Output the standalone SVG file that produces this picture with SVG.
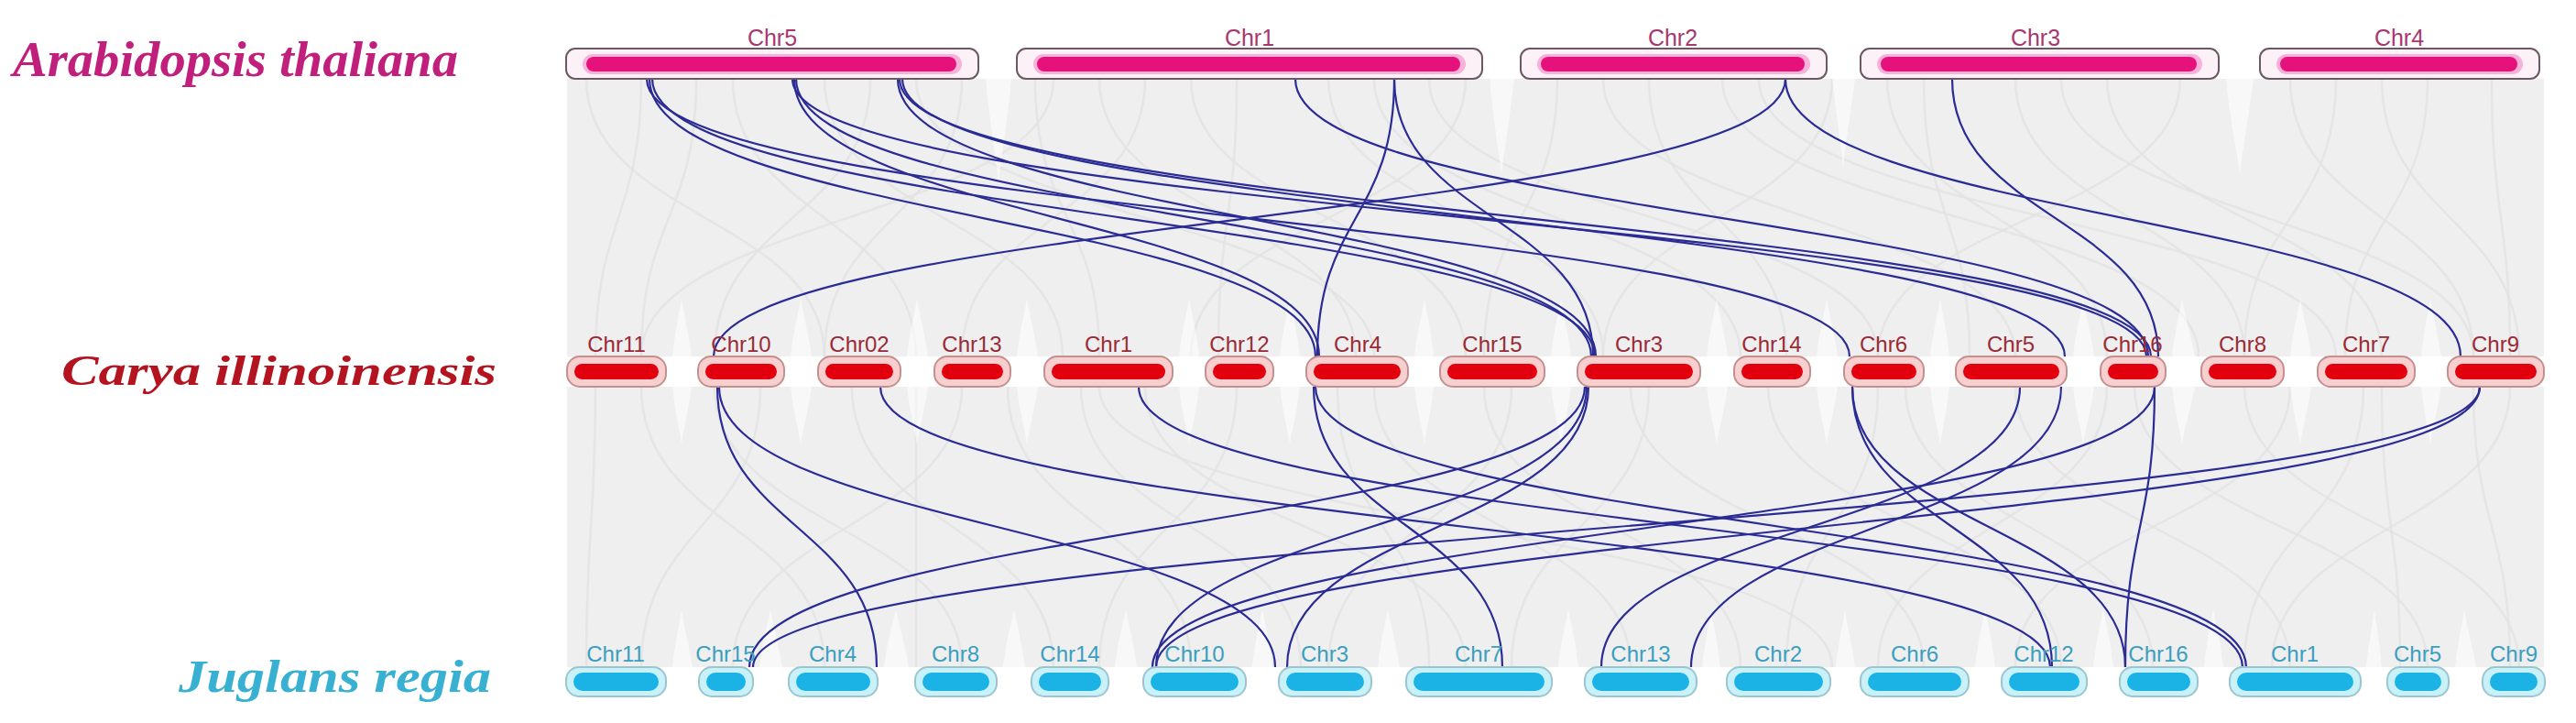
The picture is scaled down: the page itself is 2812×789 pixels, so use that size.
<svg xmlns="http://www.w3.org/2000/svg" width="2812" height="789" viewBox="0 0 2812 789">
<style>
.tbox{fill:#fdf1f8;stroke:#6b5862;stroke-width:2}
.thalo{fill:#f8b2d9}
.tbar{fill:#e5127b}
.tlab{font-family:"Liberation Sans",Arial,sans-serif;font-size:25px;fill:#a6386f;text-anchor:middle}
.mbox{fill:#f8cfcf;stroke:#c48f8f;stroke-width:2}
.mbar{fill:#e2000e}
.mlab{font-family:"Liberation Sans",Arial,sans-serif;font-size:24px;fill:#9a2b36;text-anchor:middle}
.bbox{fill:#c8f1f9;stroke:#9cc6ce;stroke-width:2}
.bbar{fill:#1bb3e5}
.blab{font-family:"Liberation Sans",Arial,sans-serif;font-size:24px;fill:#3a9fc0;text-anchor:middle}
.sp{font-family:"Liberation Serif","Times New Roman",serif;font-style:italic;font-weight:bold;text-anchor:end}
.link{fill:none;stroke:#2b2b95;stroke-width:2.2}
.grey{fill:none;stroke:#e2e2e2;stroke-width:2.5;opacity:0.8}
.wedge{fill:#ffffff;opacity:0.55}
</style>
<rect x="0" y="0" width="2812" height="789" fill="#ffffff"/>
<g id="background">
<rect x="619" y="86" width="2158" height="303" fill="#efefef"/>
<rect x="619" y="422" width="2158" height="306" fill="#efefef"/>
<g id="grey-links">
<path class="grey" d="M700 86C700 238 650 238 650 389"/>
<path class="grey" d="M760 86C760 238 700 238 700 389"/>
<path class="grey" d="M800 86C800 238 1000 238 1000 389"/>
<path class="grey" d="M900 86C900 238 1160 238 1160 389"/>
<path class="grey" d="M950 86C950 238 780 238 780 389"/>
<path class="grey" d="M1050 86C1050 238 900 238 900 389"/>
<path class="grey" d="M1130 86C1130 238 1200 238 1200 389"/>
<path class="grey" d="M1200 86C1200 238 1480 238 1480 389"/>
<path class="grey" d="M1250 86C1250 238 1050 238 1050 389"/>
<path class="grey" d="M1300 86C1300 238 1600 238 1600 389"/>
<path class="grey" d="M1350 86C1350 238 1330 238 1330 389"/>
<path class="grey" d="M1450 86C1450 238 1750 238 1750 389"/>
<path class="grey" d="M1500 86C1500 238 1900 238 1900 389"/>
<path class="grey" d="M1560 86C1560 238 2050 238 2050 389"/>
<path class="grey" d="M1700 86C1700 238 1620 238 1620 389"/>
<path class="grey" d="M1750 86C1750 238 2200 238 2200 389"/>
<path class="grey" d="M1800 86C1800 238 1950 238 1950 389"/>
<path class="grey" d="M1880 86C1880 238 2400 238 2400 389"/>
<path class="grey" d="M1920 86C1920 238 2550 238 2550 389"/>
<path class="grey" d="M2060 86C2060 238 2300 238 2300 389"/>
<path class="grey" d="M2100 86C2100 238 2150 238 2150 389"/>
<path class="grey" d="M2200 86C2200 238 2450 238 2450 389"/>
<path class="grey" d="M2250 86C2250 238 2700 238 2700 389"/>
<path class="grey" d="M2300 86C2300 238 2600 238 2600 389"/>
<path class="grey" d="M2380 86C2380 238 2050 238 2050 389"/>
<path class="grey" d="M2500 86C2500 238 2700 238 2700 389"/>
<path class="grey" d="M2550 86C2550 238 2450 238 2450 389"/>
<path class="grey" d="M2600 86C2600 238 2750 238 2750 389"/>
<path class="grey" d="M2650 86C2650 238 2560 238 2560 389"/>
<path class="grey" d="M2720 86C2720 238 2740 238 2740 389"/>
<path class="grey" d="M1150 86C1150 238 700 238 700 389"/>
<path class="grey" d="M1600 86C1600 238 1300 238 1300 389"/>
<path class="grey" d="M2000 86C2000 238 1750 238 1750 389"/>
<path class="grey" d="M640 86C640 238 900 238 900 389"/>
<path class="grey" d="M1000 86C1000 238 1500 238 1500 389"/>
<path class="grey" d="M650 422C650 575 640 575 640 728"/>
<path class="grey" d="M700 422C700 575 900 575 900 728"/>
<path class="grey" d="M780 422C780 575 1050 575 1050 728"/>
<path class="grey" d="M830 422C830 575 700 575 700 728"/>
<path class="grey" d="M930 422C930 575 1150 575 1150 728"/>
<path class="grey" d="M1050 422C1050 575 800 575 800 728"/>
<path class="grey" d="M1100 422C1100 575 1300 575 1300 728"/>
<path class="grey" d="M1180 422C1180 575 1420 575 1420 728"/>
<path class="grey" d="M1250 422C1250 575 1600 575 1600 728"/>
<path class="grey" d="M1350 422C1350 575 1200 575 1200 728"/>
<path class="grey" d="M1460 422C1460 575 1560 575 1560 728"/>
<path class="grey" d="M1500 422C1500 575 1780 575 1780 728"/>
<path class="grey" d="M1620 422C1620 575 1900 575 1900 728"/>
<path class="grey" d="M1650 422C1650 575 1450 575 1450 728"/>
<path class="grey" d="M1780 422C1780 575 2100 575 2100 728"/>
<path class="grey" d="M1800 422C1800 575 1650 575 1650 728"/>
<path class="grey" d="M1930 422C1930 575 2250 575 2250 728"/>
<path class="grey" d="M2050 422C2050 575 1950 575 1950 728"/>
<path class="grey" d="M2080 422C2080 575 2350 575 2350 728"/>
<path class="grey" d="M2200 422C2200 575 2500 575 2500 728"/>
<path class="grey" d="M2300 422C2300 575 2050 575 2050 728"/>
<path class="grey" d="M2330 422C2330 575 2650 575 2650 728"/>
<path class="grey" d="M2450 422C2450 575 2750 575 2750 728"/>
<path class="grey" d="M2500 422C2500 575 2200 575 2200 728"/>
<path class="grey" d="M2580 422C2580 575 2450 575 2450 728"/>
<path class="grey" d="M2600 422C2600 575 2620 575 2620 728"/>
<path class="grey" d="M2700 422C2700 575 2740 575 2740 728"/>
<path class="grey" d="M2740 422C2740 575 2480 575 2480 728"/>
<path class="grey" d="M1000 422C1000 575 1000 575 1000 728"/>
<path class="grey" d="M1200 422C1200 575 2000 575 2000 728"/>
</g>
<g id="wedges">
<path class="wedge" d="M1076 86C1080 130 1087 170 1090 200C1093 170 1100 130 1104 86Z"/>
<path class="wedge" d="M1626 86C1630 130 1636 165 1639 190C1642 165 1648 130 1653 86Z"/>
<path class="wedge" d="M2000 86C2004 125 2010 160 2012 185C2014 160 2020 125 2025 86Z"/>
<path class="wedge" d="M2430 86C2434 130 2442 165 2445 190C2448 165 2454 130 2460 86Z"/>
<path class="wedge" d="M734 389C737 360 742 340 744 325C746 340 751 360 755 389Z"/>
<path class="wedge" d="M863 389C866 360 872 340 874 325C876 340 882 360 886 389Z"/>
<path class="wedge" d="M990 389C993 360 999 340 1001 325C1003 340 1009 360 1013 389Z"/>
<path class="wedge" d="M1110 389C1113 360 1119 340 1121 325C1123 340 1129 360 1133 389Z"/>
<path class="wedge" d="M1287 389C1290 360 1296 340 1298 325C1300 340 1306 360 1309 389Z"/>
<path class="wedge" d="M1397 389C1400 360 1406 340 1408 325C1410 340 1416 360 1419 389Z"/>
<path class="wedge" d="M1544 389C1547 360 1553 340 1555 325C1557 340 1562 360 1565 389Z"/>
<path class="wedge" d="M1693 389C1696 360 1702 340 1704 325C1706 340 1711 360 1715 389Z"/>
<path class="wedge" d="M1863 389C1866 360 1872 340 1874 325C1876 340 1882 360 1886 389Z"/>
<path class="wedge" d="M1983 389C1986 360 1992 340 1994 325C1996 340 2002 360 2006 389Z"/>
<path class="wedge" d="M2107 389C2110 360 2116 340 2118 325C2120 340 2125 360 2128 389Z"/>
<path class="wedge" d="M2263 389C2266 360 2272 340 2274 325C2276 340 2282 360 2286 389Z"/>
<path class="wedge" d="M2371 389C2374 360 2380 340 2382 325C2384 340 2390 360 2396 389Z"/>
<path class="wedge" d="M2500 389C2503 360 2509 340 2511 325C2513 340 2519 360 2523 389Z"/>
<path class="wedge" d="M2643 389C2646 360 2651 340 2653 325C2655 340 2660 360 2665 389Z"/>
<path class="wedge" d="M734 422C737 450 742 470 744 485C746 470 751 450 755 422Z"/>
<path class="wedge" d="M863 422C866 450 872 470 874 485C876 470 882 450 886 422Z"/>
<path class="wedge" d="M990 422C993 450 999 470 1001 485C1003 470 1009 450 1013 422Z"/>
<path class="wedge" d="M1110 422C1113 450 1119 470 1121 485C1123 470 1129 450 1133 422Z"/>
<path class="wedge" d="M1287 422C1290 450 1296 470 1298 485C1300 470 1306 450 1309 422Z"/>
<path class="wedge" d="M1397 422C1400 450 1406 470 1408 485C1410 470 1416 450 1419 422Z"/>
<path class="wedge" d="M1544 422C1547 450 1553 470 1555 485C1557 470 1562 450 1565 422Z"/>
<path class="wedge" d="M1693 422C1696 450 1702 470 1704 485C1706 470 1711 450 1715 422Z"/>
<path class="wedge" d="M1863 422C1866 450 1872 470 1874 485C1876 470 1882 450 1886 422Z"/>
<path class="wedge" d="M1983 422C1986 450 1992 470 1994 485C1996 470 2002 450 2006 422Z"/>
<path class="wedge" d="M2107 422C2110 450 2116 470 2118 485C2120 470 2125 450 2128 422Z"/>
<path class="wedge" d="M2263 422C2266 450 2272 470 2274 485C2276 470 2282 450 2286 422Z"/>
<path class="wedge" d="M2371 422C2374 450 2380 470 2382 485C2384 470 2390 450 2396 422Z"/>
<path class="wedge" d="M2500 422C2503 450 2509 470 2511 485C2513 470 2519 450 2523 422Z"/>
<path class="wedge" d="M2643 422C2646 450 2651 470 2653 485C2655 470 2660 450 2665 422Z"/>
<path class="wedge" d="M734 728C737 700 742 680 744 665C746 680 751 700 756 728Z"/>
<path class="wedge" d="M829 728C832 700 838 680 841 665C844 680 849 700 854 728Z"/>
<path class="wedge" d="M965 728C968 700 975 680 978 665C981 680 987 700 992 728Z"/>
<path class="wedge" d="M1095 728C1098 700 1104 680 1107 665C1110 680 1115 700 1119 728Z"/>
<path class="wedge" d="M1217 728C1220 700 1226 680 1229 665C1232 680 1237 700 1241 728Z"/>
<path class="wedge" d="M1367 728C1370 700 1375 680 1378 665C1381 680 1386 700 1389 728Z"/>
<path class="wedge" d="M1504 728C1507 700 1512 680 1515 665C1518 680 1523 700 1528 728Z"/>
<path class="wedge" d="M1701 728C1704 700 1709 680 1712 665C1715 680 1720 700 1723 728Z"/>
<path class="wedge" d="M1858 728C1861 700 1866 680 1868 665C1870 680 1875 700 1878 728Z"/>
<path class="wedge" d="M2004 728C2007 700 2012 680 2014 665C2016 680 2021 700 2025 728Z"/>
<path class="wedge" d="M2156 728C2159 700 2164 680 2167 665C2170 680 2175 700 2178 728Z"/>
<path class="wedge" d="M2285 728C2288 700 2293 680 2296 665C2299 680 2304 700 2307 728Z"/>
<path class="wedge" d="M2406 728C2409 700 2413 680 2416 665C2419 680 2424 700 2427 728Z"/>
<path class="wedge" d="M2583 728C2586 700 2590 680 2592 665C2594 680 2597 700 2600 728Z"/>
<path class="wedge" d="M2680 728C2683 700 2688 680 2690 665C2692 680 2698 700 2703 728Z"/>
</g>
</g>
<g id="connectors">
<path class="link" d="M1949 86C1949 238 779 238 779 389"/>
<path class="link" d="M1949 86C1949 238 2686 238 2686 389"/>
<path class="link" d="M2131 86C2131 238 2356 238 2356 389"/>
<path class="link" d="M1414 86C1414 238 2345 238 2345 389"/>
<path class="link" d="M1522 86C1522 238 1438 238 1438 389"/>
<path class="link" d="M1522 86C1522 238 1739 238 1739 389"/>
<path class="link" d="M709 86C709 238 1436 238 1436 389"/>
<path class="link" d="M712 86C712 238 1741 238 1741 389"/>
<path class="link" d="M706 86C706 238 2019 238 2019 389"/>
<path class="link" d="M867 86C867 238 1440 238 1440 389"/>
<path class="link" d="M869 86C869 238 1737 238 1737 389"/>
<path class="link" d="M865 86C865 238 2343 238 2343 389"/>
<path class="link" d="M982 86C982 238 2348 238 2348 389"/>
<path class="link" d="M985 86C985 238 2254 238 2254 389"/>
<path class="link" d="M980 86C980 238 1742 238 1742 389"/>
<path class="link" d="M783 422C783 575 957 575 957 728"/>
<path class="link" d="M785 422C785 575 1392 575 1392 728"/>
<path class="link" d="M961 422C961 575 2238 575 2238 728"/>
<path class="link" d="M1243 422C1243 575 2448 575 2448 728"/>
<path class="link" d="M1434 422C1434 575 1640 575 1640 728"/>
<path class="link" d="M1436 422C1436 575 2452 575 2452 728"/>
<path class="link" d="M1730 422C1730 575 818 575 818 728"/>
<path class="link" d="M1732 422C1732 575 1262 575 1262 728"/>
<path class="link" d="M1734 422C1734 575 1405 575 1405 728"/>
<path class="link" d="M2022 422C2022 575 2240 575 2240 728"/>
<path class="link" d="M2022 422C2022 575 2320 575 2320 728"/>
<path class="link" d="M2205 422C2205 575 1748 575 1748 728"/>
<path class="link" d="M2250 422C2250 575 1846 575 1846 728"/>
<path class="link" d="M2352 422C2352 575 1258 575 1258 728"/>
<path class="link" d="M2352 422C2352 575 2320 575 2320 728"/>
<path class="link" d="M2707 422C2707 575 822 575 822 728"/>
<path class="link" d="M2707 422C2707 575 1262 575 1262 728"/>
</g>
<g id="species-labels">
<text id="sp-arabidopsis" class="sp" x="500" y="83" font-size="54" fill="#c0207c" textLength="486" lengthAdjust="spacingAndGlyphs">Arabidopsis thaliana</text>
<text id="sp-carya" class="sp" x="542" y="420" font-size="47" fill="#b4141f" textLength="475" lengthAdjust="spacingAndGlyphs">Carya illinoinensis</text>
<text id="sp-juglans" class="sp" x="536" y="755" font-size="51" fill="#38b0d2" textLength="341" lengthAdjust="spacingAndGlyphs">Juglans regia</text>
</g>
<g id="top-row">
<g id="at-chr5"><rect class="tbox" x="618" y="53" width="450" height="33" rx="10"/><rect class="thalo" x="636" y="59" width="414" height="22" rx="11"/><rect class="tbar" x="640" y="62" width="404" height="16" rx="8"/><text class="tlab" x="843" y="50">Chr5</text></g>
<g id="at-chr1"><rect class="tbox" x="1110" y="53" width="508" height="33" rx="10"/><rect class="thalo" x="1128" y="59" width="472" height="22" rx="11"/><rect class="tbar" x="1132" y="62" width="462" height="16" rx="8"/><text class="tlab" x="1364" y="50">Chr1</text></g>
<g id="at-chr2"><rect class="tbox" x="1660" y="53" width="334" height="33" rx="10"/><rect class="thalo" x="1678" y="59" width="298" height="22" rx="11"/><rect class="tbar" x="1682" y="62" width="288" height="16" rx="8"/><text class="tlab" x="1826" y="50">Chr2</text></g>
<g id="at-chr3"><rect class="tbox" x="2031" y="53" width="391" height="33" rx="10"/><rect class="thalo" x="2049" y="59" width="355" height="22" rx="11"/><rect class="tbar" x="2053" y="62" width="345" height="16" rx="8"/><text class="tlab" x="2222" y="50">Chr3</text></g>
<g id="at-chr4"><rect class="tbox" x="2467" y="53" width="305" height="33" rx="10"/><rect class="thalo" x="2485" y="59" width="269" height="22" rx="11"/><rect class="tbar" x="2489" y="62" width="259" height="16" rx="8"/><text class="tlab" x="2619" y="50">Chr4</text></g>
</g>
<g id="middle-row">
<g id="ci-chr11"><rect class="mbox" x="619" y="389" width="108" height="33" rx="14"/><rect class="mbar" x="627" y="397" width="92" height="17" rx="8.5"/><text class="mlab" x="673" y="384">Chr11</text></g>
<g id="ci-chr10"><rect class="mbox" x="762" y="389" width="94" height="33" rx="14"/><rect class="mbar" x="770" y="397" width="78" height="17" rx="8.5"/><text class="mlab" x="809" y="384">Chr10</text></g>
<g id="ci-chr02"><rect class="mbox" x="893" y="389" width="90" height="33" rx="14"/><rect class="mbar" x="901" y="397" width="74" height="17" rx="8.5"/><text class="mlab" x="938" y="384">Chr02</text></g>
<g id="ci-chr13"><rect class="mbox" x="1020" y="389" width="83" height="33" rx="14"/><rect class="mbar" x="1028" y="397" width="67" height="17" rx="8.5"/><text class="mlab" x="1061" y="384">Chr13</text></g>
<g id="ci-chr1"><rect class="mbox" x="1140" y="389" width="140" height="33" rx="14"/><rect class="mbar" x="1148" y="397" width="124" height="17" rx="8.5"/><text class="mlab" x="1210" y="384">Chr1</text></g>
<g id="ci-chr12"><rect class="mbox" x="1316" y="389" width="74" height="33" rx="14"/><rect class="mbar" x="1324" y="397" width="58" height="17" rx="8.5"/><text class="mlab" x="1353" y="384">Chr12</text></g>
<g id="ci-chr4"><rect class="mbox" x="1426" y="389" width="111" height="33" rx="14"/><rect class="mbar" x="1434" y="397" width="95" height="17" rx="8.5"/><text class="mlab" x="1482" y="384">Chr4</text></g>
<g id="ci-chr15"><rect class="mbox" x="1572" y="389" width="114" height="33" rx="14"/><rect class="mbar" x="1580" y="397" width="98" height="17" rx="8.5"/><text class="mlab" x="1629" y="384">Chr15</text></g>
<g id="ci-chr3"><rect class="mbox" x="1722" y="389" width="134" height="33" rx="14"/><rect class="mbar" x="1730" y="397" width="118" height="17" rx="8.5"/><text class="mlab" x="1789" y="384">Chr3</text></g>
<g id="ci-chr14"><rect class="mbox" x="1893" y="389" width="83" height="33" rx="14"/><rect class="mbar" x="1901" y="397" width="67" height="17" rx="8.5"/><text class="mlab" x="1934" y="384">Chr14</text></g>
<g id="ci-chr6"><rect class="mbox" x="2013" y="389" width="87" height="33" rx="14"/><rect class="mbar" x="2021" y="397" width="71" height="17" rx="8.5"/><text class="mlab" x="2056" y="384">Chr6</text></g>
<g id="ci-chr5"><rect class="mbox" x="2135" y="389" width="121" height="33" rx="14"/><rect class="mbar" x="2143" y="397" width="105" height="17" rx="8.5"/><text class="mlab" x="2195" y="384">Chr5</text></g>
<g id="ci-chr16"><rect class="mbox" x="2293" y="389" width="71" height="33" rx="14"/><rect class="mbar" x="2301" y="397" width="55" height="17" rx="8.5"/><text class="mlab" x="2328" y="384">Chr16</text></g>
<g id="ci-chr8"><rect class="mbox" x="2403" y="389" width="90" height="33" rx="14"/><rect class="mbar" x="2411" y="397" width="74" height="17" rx="8.5"/><text class="mlab" x="2448" y="384">Chr8</text></g>
<g id="ci-chr7"><rect class="mbox" x="2530" y="389" width="106" height="33" rx="14"/><rect class="mbar" x="2538" y="397" width="90" height="17" rx="8.5"/><text class="mlab" x="2583" y="384">Chr7</text></g>
<g id="ci-chr9"><rect class="mbox" x="2672" y="389" width="105" height="33" rx="14"/><rect class="mbar" x="2680" y="397" width="89" height="17" rx="8.5"/><text class="mlab" x="2724" y="384">Chr9</text></g>
</g>
<g id="bottom-row">
<g id="jr-chr11"><rect class="bbox" x="618" y="728" width="109" height="32" rx="14"/><rect class="bbar" x="626" y="734" width="93" height="20" rx="10"/><text class="blab" x="672" y="722">Chr11</text></g>
<g id="jr-chr15"><rect class="bbox" x="763" y="728" width="59" height="32" rx="14"/><rect class="bbar" x="771" y="734" width="43" height="20" rx="10"/><text class="blab" x="792" y="722">Chr15</text></g>
<g id="jr-chr4"><rect class="bbox" x="861" y="728" width="97" height="32" rx="14"/><rect class="bbar" x="869" y="734" width="81" height="20" rx="10"/><text class="blab" x="909" y="722">Chr4</text></g>
<g id="jr-chr8"><rect class="bbox" x="999" y="728" width="89" height="32" rx="14"/><rect class="bbar" x="1007" y="734" width="73" height="20" rx="10"/><text class="blab" x="1043" y="722">Chr8</text></g>
<g id="jr-chr14"><rect class="bbox" x="1126" y="728" width="84" height="32" rx="14"/><rect class="bbar" x="1134" y="734" width="68" height="20" rx="10"/><text class="blab" x="1168" y="722">Chr14</text></g>
<g id="jr-chr10"><rect class="bbox" x="1248" y="728" width="112" height="32" rx="14"/><rect class="bbar" x="1256" y="734" width="96" height="20" rx="10"/><text class="blab" x="1304" y="722">Chr10</text></g>
<g id="jr-chr3"><rect class="bbox" x="1396" y="728" width="101" height="32" rx="14"/><rect class="bbar" x="1404" y="734" width="85" height="20" rx="10"/><text class="blab" x="1446" y="722">Chr3</text></g>
<g id="jr-chr7"><rect class="bbox" x="1535" y="728" width="159" height="32" rx="14"/><rect class="bbar" x="1543" y="734" width="143" height="20" rx="10"/><text class="blab" x="1614" y="722">Chr7</text></g>
<g id="jr-chr13"><rect class="bbox" x="1730" y="728" width="122" height="32" rx="14"/><rect class="bbar" x="1738" y="734" width="106" height="20" rx="10"/><text class="blab" x="1791" y="722">Chr13</text></g>
<g id="jr-chr2"><rect class="bbox" x="1885" y="728" width="113" height="32" rx="14"/><rect class="bbar" x="1893" y="734" width="97" height="20" rx="10"/><text class="blab" x="1941" y="722">Chr2</text></g>
<g id="jr-chr6"><rect class="bbox" x="2031" y="728" width="118" height="32" rx="14"/><rect class="bbar" x="2039" y="734" width="102" height="20" rx="10"/><text class="blab" x="2090" y="722">Chr6</text></g>
<g id="jr-chr12"><rect class="bbox" x="2185" y="728" width="93" height="32" rx="14"/><rect class="bbar" x="2193" y="734" width="77" height="20" rx="10"/><text class="blab" x="2231" y="722">Chr12</text></g>
<g id="jr-chr16"><rect class="bbox" x="2314" y="728" width="85" height="32" rx="14"/><rect class="bbar" x="2322" y="734" width="69" height="20" rx="10"/><text class="blab" x="2356" y="722">Chr16</text></g>
<g id="jr-chr1"><rect class="bbox" x="2434" y="728" width="143" height="32" rx="14"/><rect class="bbar" x="2442" y="734" width="127" height="20" rx="10"/><text class="blab" x="2505" y="722">Chr1</text></g>
<g id="jr-chr5"><rect class="bbox" x="2606" y="728" width="67" height="32" rx="14"/><rect class="bbar" x="2614" y="734" width="51" height="20" rx="10"/><text class="blab" x="2639" y="722">Chr5</text></g>
<g id="jr-chr9"><rect class="bbox" x="2710" y="728" width="68" height="32" rx="14"/><rect class="bbar" x="2718" y="734" width="52" height="20" rx="10"/><text class="blab" x="2744" y="722">Chr9</text></g>
</g>
</svg>
